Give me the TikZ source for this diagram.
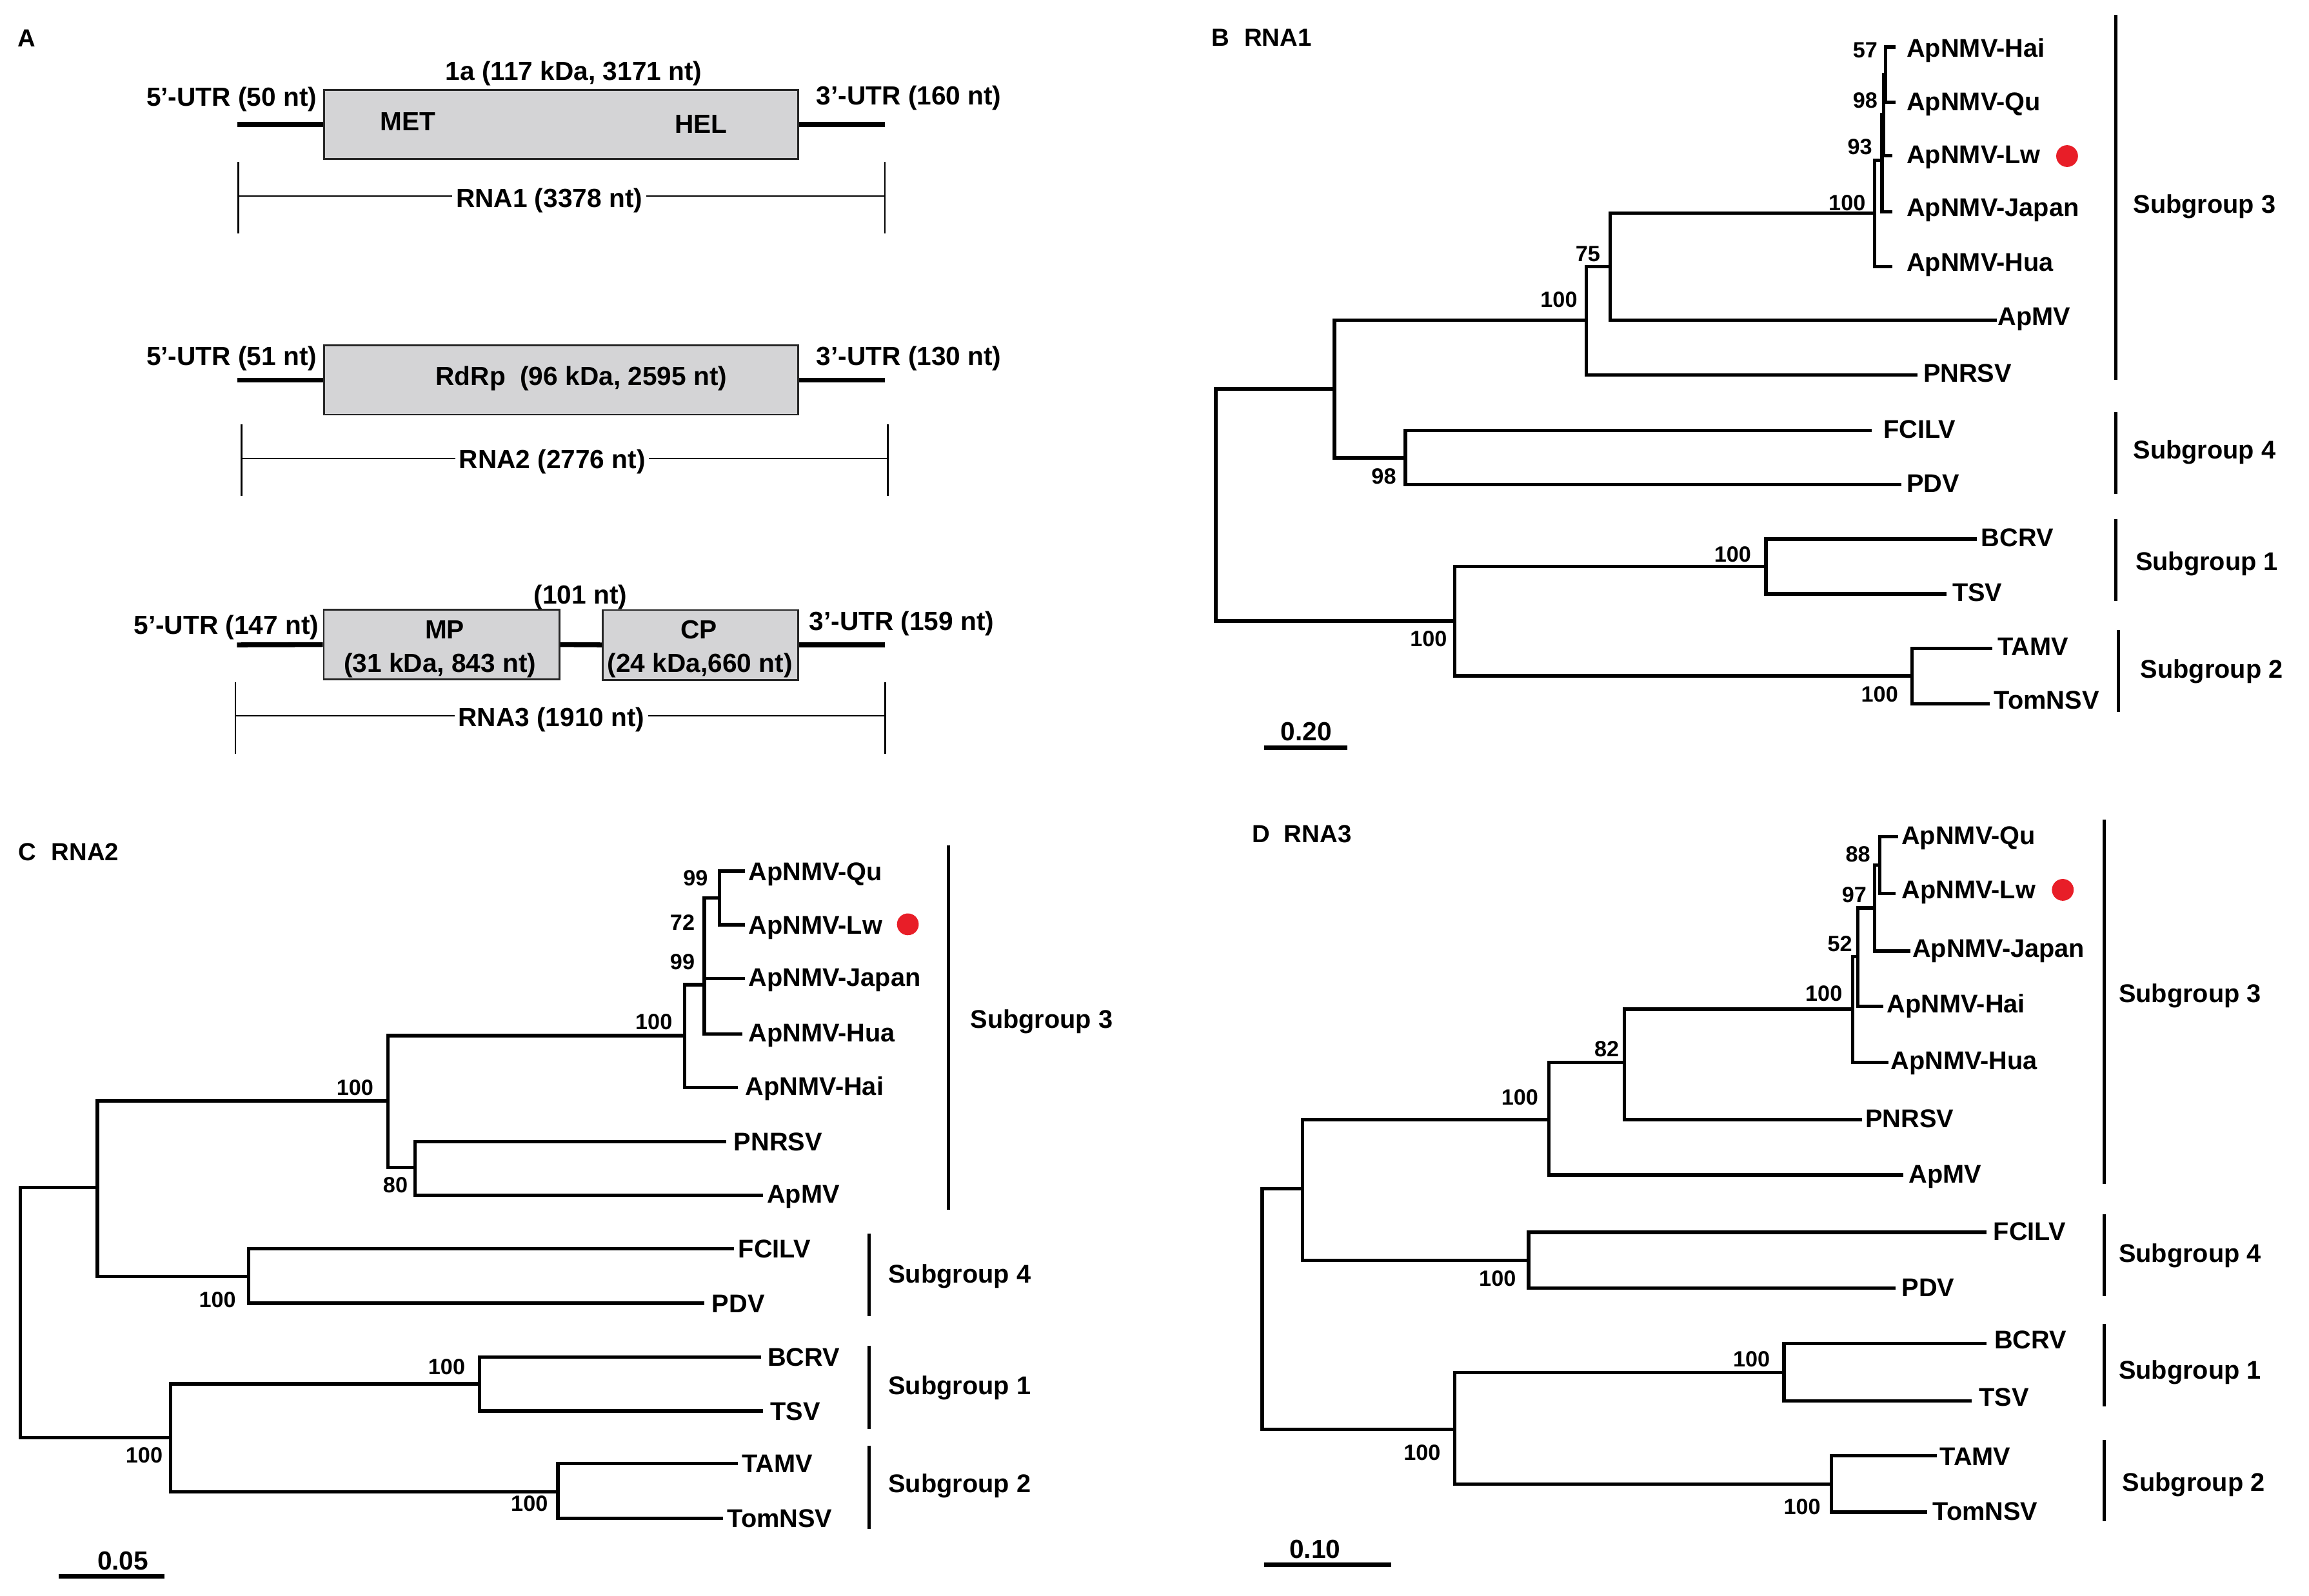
\documentclass[tikz,border=0pt]{standalone}
\usepackage{fontspec}
\setmainfont{Liberation Sans}
\definecolor{boxgray}{RGB}{212,212,214}
\definecolor{dotred}{RGB}{232,30,40}
\begin{document}
\begin{tikzpicture}[x=1pt,y=-1pt,
 br/.style={line width=2.3pt, line cap=rect, line join=miter},
 grp/.style={line width=2.2pt},
 sbar/.style={line width=3.2pt},
 leaf/.style={anchor=west, inner sep=0pt, text height=12.46pt, text depth=0pt, font=\bfseries\fontsize{17.4}{20}\selectfont},
 boot/.style={anchor=center, inner sep=0pt, text height=10.74pt, text depth=0pt, font=\bfseries\fontsize{15}{18}\selectfont},
 atxt/.style={anchor=center, inner sep=0pt, text height=12.7pt, text depth=0pt, font=\bfseries\fontsize{17.8}{21}\selectfont},
 ptitle/.style={anchor=west, inner sep=0pt, text height=12pt, text depth=0pt, font=\bfseries\fontsize{16.8}{20}\selectfont},
 orf/.style={draw=black!85, line width=1.2pt, fill=boxgray, inner sep=0pt},
 utr/.style={line width=3.3pt},
 len/.style={line width=1pt},
 reddot/.style={circle, fill=dotred, inner sep=0pt, minimum size=14.8pt},
]
\useasboundingbox (0,0) rectangle (1568,1084);

% ================= Panel A =================
\node[ptitle] (tA) at (12,25.6) {A};
% RNA1
\node[orf, minimum width=322pt, minimum height=47pt] (orf1) at (381,84.5) {};
\coordinate (u1a) at (161,84.5); \coordinate (u1b) at (601,84.5);
\draw[utr] (u1a) -- (orf1.west); \draw[utr] (orf1.east) -- (u1b);
\node[atxt] (t1a) at (389.7,48.1) {1a (117 kDa, 3171 nt)};
\node[atxt] (t1l) at (157.3,65.8) {5’-UTR (50 nt)};
\node[atxt] (t1r) at (617.2,65) {3’-UTR (160 nt)};
\node[atxt] (met) at (277,82.3) {MET};
\node[atxt] (hel) at (476,84) {HEL};
\coordinate (l1a) at (161.8,133); \coordinate (l1b) at (601,133);
\draw[len] (161.8,110) -- (161.8,158.5); \draw[len] (601,110) -- (601,158.5);
\draw[len] (l1a) -- (l1b);
\node[atxt, fill=white, inner xsep=2.5pt] (l1t) at (373,134.5) {RNA1 (3378 nt)};
% RNA2
\node[orf, minimum width=322pt, minimum height=47pt] (orf2) at (381,258.1) {};
\coordinate (u2a) at (161,258.1); \coordinate (u2b) at (601,258.1);
\draw[utr] (u2a) -- (orf2.west); \draw[utr] (orf2.east) -- (u2b);
\node[atxt] (t2l) at (157.3,241.6) {5’-UTR (51 nt)};
\node[atxt] (t2r) at (617.2,241.6) {3’-UTR (130 nt)};
\node[atxt] (rdrp) at (394.8,255.5) {RdRp\ \ (96 kDa, 2595 nt)};
\coordinate (l2a) at (164,311.3); \coordinate (l2b) at (602.9,311.3);
\draw[len] (164,288.4) -- (164,337); \draw[len] (602.9,288.4) -- (602.9,337);
\draw[len] (l2a) -- (l2b);
\node[atxt, fill=white, inner xsep=2.5pt] (l2t) at (375,311.8) {RNA2 (2776 nt)};
% RNA3
\node[orf, minimum width=160pt, minimum height=47.4pt] (mp) at (299.9,437.8) {};
\node[orf, minimum width=132.7pt, minimum height=47.4pt] (cp) at (475.75,438) {};
\coordinate (u3a) at (160.9,438); \coordinate (u3b) at (601.1,438);
\draw[utr] (u3a) -- (mp.west); \draw[utr] (mp.east) -- (cp.west); \draw[utr] (cp.east) -- (u3b);
\node[atxt] (t101) at (394.2,404) {(101 nt)};
\node[atxt] (mpt) at (302,427.5) {MP};
\node[atxt] (mps) at (298.8,450.1) {(31 kDa, 843 nt)};
\node[atxt] (cpt) at (474.6,427.5) {CP};
\node[atxt] (cps) at (475.3,450.1) {(24 kDa,660 nt)};
\node[atxt] (t3l) at (153.7,424.5) {5’-UTR (147 nt)};
\node[atxt] (t3r) at (612.3,421.6) {3’-UTR (159 nt)};
\coordinate (l3a) at (160,486.1); \coordinate (l3b) at (601.1,486.1);
\draw[len] (160,463.5) -- (160,512.1); \draw[len] (601.1,463.5) -- (601.1,512.1);
\draw[len] (l3a) -- (l3b);
\node[atxt, fill=white, inner xsep=2.5pt] (l3t) at (374.5,487) {RNA3 (1910 nt)};

% ================= Panel B (RNA1) =================
\node[ptitle] (tB) at (822.7,25.1) {B};
\node[ptitle] (tB2) at (844.8,25.1) {RNA1};
\draw[br] (906.2,264.1) -- (825.6,264.1) -- (825.6,421.8) -- (987.8,421.8);
\draw[br] (1077.3,217.4) -- (906.2,217.4) -- (906.2,311) -- (954.4,311);
\draw[br] (1093.5,181) -- (1077.3,181) -- (1077.3,254.6) -- (1301,254.6);
\draw[br] (1273,144.6) -- (1093.5,144.6) -- (1093.5,217.4) -- (1355,217.4);
\draw[br] (1278,109) -- (1273,109) -- (1273,181) -- (1284,181);
\draw[br] (1279,78) -- (1278,78) -- (1278,143.8) -- (1284,143.8);
\draw[br] (1280.4,50.7) -- (1279,50.7) -- (1279,105.7) -- (1284,105.7);
\draw[br] (1286,32) -- (1280.4,32) -- (1280.4,69.3) -- (1286,69.3);
\draw[br] (1270,292.2) -- (954.4,292.2) -- (954.4,329.1) -- (1290.2,329.1);
\draw[br] (1199.2,384.9) -- (987.8,384.9) -- (987.8,459) -- (1298.5,459);
\draw[br] (1341.3,366.2) -- (1199.2,366.2) -- (1199.2,403.4) -- (1320.7,403.4);
\draw[br] (1351.6,440.3) -- (1298.5,440.3) -- (1298.5,477.9) -- (1350,477.9);
\node[leaf] (bhai) at (1294.6,32.5) {ApNMV-Hai};
\node[leaf] (bqu) at (1294.6,68.8) {ApNMV-Qu};
\node[leaf] (blw) at (1294.6,104.8) {ApNMV-Lw};
\node[leaf] (bjap) at (1294.6,140.8) {ApNMV-Japan};
\node[leaf] (bhua) at (1294.6,178) {ApNMV-Hua};
\node[leaf] (bapmv) at (1356.5,214.8) {ApMV};
\node[leaf] (bpnrsv) at (1305.9,253.2) {PNRSV};
\node[leaf] (bfcilv) at (1278.9,291.2) {FCILV};
\node[leaf] (bpdv) at (1294.6,328) {PDV};
\node[leaf] (bbcrv) at (1345.2,365) {BCRV};
\node[leaf] (btsv) at (1325.6,402) {TSV};
\node[leaf] (btamv) at (1356.5,439) {TAMV};
\node[leaf] (btom) at (1354,475.5) {TomNSV};
\node[reddot] (bdot) at (1403.7,106) {};
\node[boot] (bb1) at (1266.6,33.8) {57};
\node[boot] (bb2) at (1266.6,68) {98};
\node[boot] (bb3) at (1263,99.6) {93};
\node[boot] (bb4) at (1254.3,137.7) {100};
\node[boot] (bb5) at (1078.3,172.3) {75};
\node[boot] (bb6) at (1058.6,203.5) {100};
\node[boot] (bb7) at (939.7,323.4) {98};
\node[boot] (bb8) at (970.1,433.9) {100};
\node[boot] (bb9) at (1176.6,376.2) {100};
\node[boot] (bb10) at (1276.4,471.5) {100};
\draw[grp] (1437,10) -- (1437,258);
\draw[grp] (1437,279.8) -- (1437,335.5);
\draw[grp] (1437,352.5) -- (1437,408.3);
\draw[grp] (1438.6,427.7) -- (1438.6,483.6);
\node[leaf] (bg3) at (1448.5,138.6) {Subgroup 3};
\node[leaf] (bg4) at (1448.5,305.2) {Subgroup 4};
\node[leaf] (bg1) at (1450,381.1) {Subgroup 1};
\node[leaf] (bg2) at (1453.4,454.2) {Subgroup 2};
\coordinate (bsa) at (858.5,507.9); \coordinate (bsb) at (915.1,507.9);
\draw[sbar] (bsa) -- (bsb);
\node[atxt] (bsc) at (887,496.6) {0.20};

% ================= Panel C (RNA2) =================
\node[ptitle] (tC) at (12.4,578.7) {C};
\node[ptitle] (tC2) at (34.8,578.7) {RNA2};
\draw[br] (66.1,806.5) -- (13.9,806.5) -- (13.9,976.4) -- (115.8,976.4);
\draw[br] (263.5,747.6) -- (66.1,747.6) -- (66.1,867.1) -- (169,867.1);
\draw[br] (464.9,703.4) -- (263.5,703.4) -- (263.5,793) -- (281.9,793);
\draw[br] (492.2,775.3) -- (281.9,775.3) -- (281.9,811.7) -- (517.1,811.7);
\draw[br] (478.3,668.8) -- (464.9,668.8) -- (464.9,738.6) -- (499.7,738.6);
\draw[br] (488.7,609.9) -- (478.3,609.9) -- (478.3,702.2) -- (503,702.2);
\draw[br] (478.3,664.5) -- (504.6,664.5);
\draw[br] (504.6,591.7) -- (488.7,591.7) -- (488.7,628.1) -- (504.6,628.1);
\draw[br] (497.2,848.2) -- (169,848.2) -- (169,885.2) -- (477.3,885.2);
\draw[br] (325.7,939.9) -- (115.8,939.9) -- (115.8,1013.4) -- (378.9,1013.4);
\draw[br] (515.6,921.8) -- (325.7,921.8) -- (325.7,958.3) -- (517.1,958.3);
\draw[br] (499.7,994.1) -- (378.9,994.1) -- (378.9,1031.1) -- (489.7,1031.1);
\node[leaf] (cqu) at (508.1,591.7) {ApNMV-Qu};
\node[leaf] (clw) at (508.1,628.1) {ApNMV-Lw};
\node[leaf] (cjap) at (508.1,663.5) {ApNMV-Japan};
\node[leaf] (chua) at (508.1,701.2) {ApNMV-Hua};
\node[leaf] (chai) at (506.1,737.6) {ApNMV-Hai};
\node[leaf] (cpnrsv) at (498.2,775.3) {PNRSV};
\node[leaf] (capmv) at (520.6,810.7) {ApMV};
\node[leaf] (cfcilv) at (501.2,848.2) {FCILV};
\node[leaf] (cpdv) at (483.3,885.2) {PDV};
\node[leaf] (cbcrv) at (521.1,921.8) {BCRV};
\node[leaf] (ctsv) at (523,958.3) {TSV};
\node[leaf] (ctamv) at (503.7,994.1) {TAMV};
\node[leaf] (ctom) at (493.7,1031.1) {TomNSV};
\node[reddot] (cdot) at (616.5,627.8) {};
\node[boot] (cb1) at (472.3,596.1) {99};
\node[boot] (cb2) at (463.4,626.4) {72};
\node[boot] (cb3) at (463.4,653.2) {99};
\node[boot] (cb4) at (444,694) {100};
\node[boot] (cb5) at (241.1,738.6) {100};
\node[boot] (cb6) at (268.5,804.8) {80};
\node[boot] (cb7) at (147.7,882.6) {100};
\node[boot] (cb8) at (97.9,988.4) {100};
\node[boot] (cb9) at (303.3,928.2) {100};
\node[boot] (cb10) at (359.5,1021.1) {100};
\draw[grp] (643.9,574) -- (643.9,821.5);
\draw[grp] (590.2,837.8) -- (590.2,894.1);
\draw[grp] (590.2,914) -- (590.2,970.4);
\draw[grp] (590.2,981.9) -- (590.2,1038.3);
\node[leaf] (cg3) at (658.8,692.2) {Subgroup 3};
\node[leaf] (cg4) at (603.1,865) {Subgroup 4};
\node[leaf] (cg1) at (603.1,941.1) {Subgroup 1};
\node[leaf] (cg2) at (603.1,1007.4) {Subgroup 2};
\coordinate (csa) at (39.8,1070.7); \coordinate (csb) at (111.9,1070.7);
\draw[sbar] (csa) -- (csb);
\node[atxt] (csc) at (83.5,1059.8) {0.05};

% ================= Panel D (RNA3) =================
\node[ptitle] (tD) at (850.2,566.1) {D};
\node[ptitle] (tD2) at (871.8,566.1) {RNA3};
\draw[br] (884.6,807.5) -- (857.1,807.5) -- (857.1,970.8) -- (987.9,970.8);
\draw[br] (1051.8,760.5) -- (884.6,760.5) -- (884.6,856.2) -- (1038,856.2);
\draw[br] (1102.9,721.7) -- (1051.8,721.7) -- (1051.8,798) -- (1291.2,798);
\draw[br] (1258.2,685.4) -- (1102.9,685.4) -- (1102.9,760.5) -- (1263.1,760.5);
\draw[br] (1261.7,649.6) -- (1258.2,649.6) -- (1258.2,721.7) -- (1281.3,721.7);
\draw[br] (1273,616.7) -- (1261.7,616.7) -- (1261.7,683.6) -- (1277.9,683.6);
\draw[br] (1276.4,587.4) -- (1273,587.4) -- (1273,646) -- (1296.1,646);
\draw[br] (1287.7,568.3) -- (1276.4,568.3) -- (1276.4,606.7) -- (1286.2,606.7);
\draw[br] (1347.7,837) -- (1038,837) -- (1038,874.8) -- (1286.2,874.8);
\draw[br] (1211.5,932.1) -- (987.9,932.1) -- (987.9,1008.1) -- (1243.5,1008.1);
\draw[br] (1347.7,912.5) -- (1211.5,912.5) -- (1211.5,951.6) -- (1337.9,951.6);
\draw[br] (1314.3,988.6) -- (1243.5,988.6) -- (1243.5,1027.1) -- (1307.4,1027.1);
\node[leaf] (dqu) at (1291.1,567.4) {ApNMV-Qu};
\node[leaf] (dlw) at (1291.2,604) {ApNMV-Lw};
\node[leaf] (djap) at (1298.5,644) {ApNMV-Japan};
\node[leaf] (dhai) at (1281.3,681.8) {ApNMV-Hai};
\node[leaf] (dhua) at (1283.8,720.2) {ApNMV-Hua};
\node[leaf] (dpnrsv) at (1266.6,759.6) {PNRSV};
\node[leaf] (dapmv) at (1296.1,797.1) {ApMV};
\node[leaf] (dfcilv) at (1353.6,836.1) {FCILV};
\node[leaf] (dpdv) at (1291.2,874.3) {PDV};
\node[leaf] (dbcrv) at (1354.1,909.9) {BCRV};
\node[leaf] (dtsv) at (1343.8,949) {TSV};
\node[leaf] (dtamv) at (1317.2,988.9) {TAMV};
\node[leaf] (dtom) at (1312.3,1026.2) {TomNSV};
\node[reddot] (ddot) at (1400.8,604.4) {};
\node[boot] (db1) at (1261.7,579.9) {88};
\node[boot] (db2) at (1259.2,607.6) {97};
\node[boot] (db3) at (1249.4,640.7) {52};
\node[boot] (db4) at (1238.5,674.7) {100};
\node[boot] (db5) at (1091.1,712.2) {82};
\node[boot] (db6) at (1032.1,745.3) {100};
\node[boot] (db7) at (1016.9,868.1) {100};
\node[boot] (db8) at (965.7,986.3) {100};
\node[boot] (db9) at (1189.4,922.8) {100};
\node[boot] (db10) at (1223.8,1023.1) {100};
\draw[grp] (1428.8,556.7) -- (1428.8,804.3);
\draw[grp] (1428.8,824.6) -- (1428.8,880.5);
\draw[grp] (1428.8,899.2) -- (1428.8,955.2);
\draw[grp] (1428.8,977.9) -- (1428.8,1033.4);
\node[leaf] (dg3) at (1438.6,674.7) {Subgroup 3};
\node[leaf] (dg4) at (1438.6,851.2) {Subgroup 4};
\node[leaf] (dg1) at (1438.6,930.3) {Subgroup 1};
\node[leaf] (dg2) at (1441.1,1006.7) {Subgroup 2};
\coordinate (dsa) at (858.5,1062.7); \coordinate (dsb) at (944.6,1062.7);
\draw[sbar] (dsa) -- (dsb);
\node[atxt] (dsc) at (893,1052) {0.10};
\end{tikzpicture}
\end{document}
